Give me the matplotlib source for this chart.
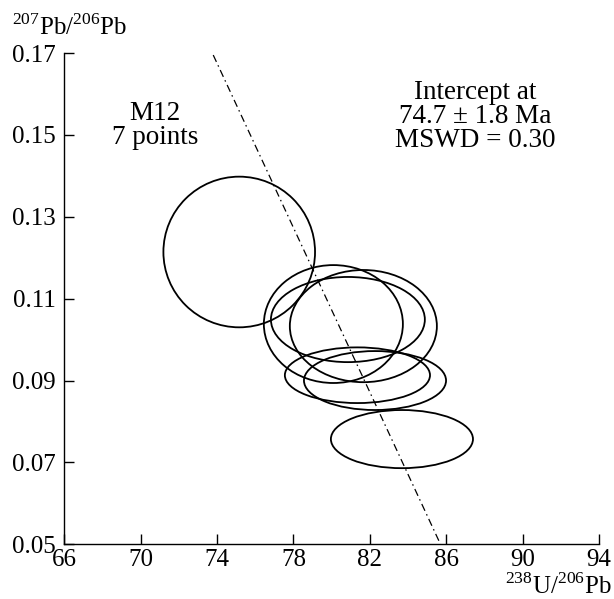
import matplotlib
matplotlib.use("Agg")
import matplotlib.pyplot as plt
from matplotlib.patches import Ellipse

# error ellipses: centre and half-axes (238U/206Pb, 207Pb/206Pb)
ell_x = [75.16, 80.09, 80.85, 81.66, 81.35, 82.27, 83.68]
ell_y = [0.1214, 0.1038, 0.1049, 0.1033, 0.0913, 0.0900, 0.0757]
ell_sx = [3.97, 3.64, 4.03, 3.85, 3.80, 3.72, 3.72]
ell_sy = [0.0184, 0.0144, 0.0104, 0.0137, 0.0068, 0.0072, 0.0071]

# discordia line end points
disc_x = [73.8, 85.7]
disc_y = [0.1695, 0.05]

xticks = [66, 70, 74, 78, 82, 86, 90, 94]
yticks = [0.05, 0.07, 0.09, 0.11, 0.13, 0.15, 0.17]

plt.rcParams["font.family"] = ["Liberation Serif", "DejaVu Serif"]
plt.rcParams["mathtext.fontset"] = "custom"
plt.rcParams["mathtext.rm"] = "Liberation Serif"
fs_tick = 18
fs_note = 19.5
fs_lab = 18

fig = plt.figure(figsize=(6.14, 5.99), dpi=100)
ax = fig.add_axes([0.1047, 0.0913, 0.8709, 0.8202])

for cx, cy, sx, sy in zip(ell_x, ell_y, ell_sx, ell_sy):
    ax.add_patch(Ellipse((cx, cy), 2 * sx, 2 * sy, fill=False, ec="black", lw=1.3))

ax.plot(disc_x, disc_y, color="black", lw=0.9, dashes=(6, 3, 1.2, 3))

ax.set_xlim(66, 94); ax.set_ylim(0.05, 0.17)
ax.set_xticks(xticks); ax.set_xticklabels([str(v) for v in xticks])
ax.set_yticks(yticks); ax.set_yticklabels([f"{v:.2f}" for v in yticks])
ax.tick_params(direction="in", length=7, width=1, labelsize=fs_tick, pad=6)
ax.tick_params(axis="x", pad=3.5)
for s in ("top", "right"):
    ax.spines[s].set_visible(False)
for s in ("left", "bottom"):
    ax.spines[s].set_linewidth(1.0)

ax.text(70.75, 0.1523, "M12\n7 points", ha="center", va="center", fontsize=fs_note, linespacing=0.95)
ax.text(87.5, 0.1546, "Intercept at\n74.7 ± 1.8 Ma\nMSWD = 0.30", ha="center", va="center",
        fontsize=fs_note, linespacing=0.95)

fig.text(0.02, 0.941, r"$^{207}$Pb/$^{206}$Pb", fontsize=fs_lab, ha="left", va="baseline")
fig.text(0.996, 0.008, r"$^{238}$U/$^{206}$Pb", fontsize=fs_lab, ha="right", va="baseline")

fig.savefig("out.png", dpi=100)
